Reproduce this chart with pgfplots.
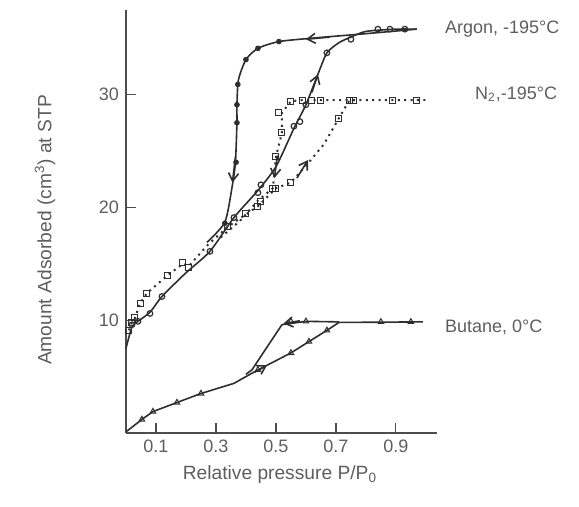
\documentclass[border=0pt]{standalone}
\usepackage{fontspec}
\setmainfont{Liberation Sans}
\usepackage{pgfplots}
\pgfplotsset{compat=1.18}
\usetikzlibrary{arrows.meta}
\definecolor{ink}{HTML}{2E2E2E}
\definecolor{txt}{HTML}{5E5E5E}
\begin{document}
\begin{tikzpicture}
\begin{axis}[
  scale only axis, width=155.5pt, height=211.5pt,
  xmin=0, xmax=1.037, ymin=0, ymax=37.5,
  axis x line=bottom, axis y line=left,
  axis line style={-, ink!85, line width=0.6pt},
  xtick={0.1,0.3,0.5,0.7,0.9}, ytick={10,20,30},
  tick align=inside, major tick length=5pt,
  tick style={ink!85, line width=0.6pt},
  xticklabel style={/pgf/number format/fixed, /pgf/number format/precision=1,
    /pgf/number format/fixed zerofill},
  /pgf/number format/assume math mode=true,
  tick label style={font=\fontsize{9}{10}\selectfont, text=txt},
  label style={font=\fontsize{9.6}{11}\selectfont, text=txt},
  xlabel={Relative pressure P/P\textsubscript{0}},
  ylabel={Amount Adsorbed (cm\textsuperscript{3}) at STP},
  xlabel style={at={(axis description cs:0.495,-0.099)}, anchor=center},
  ylabel style={at={(axis description cs:-0.26,0.48)}, anchor=center},
  clip=false,
]
\path (axis description cs:-0.405,-0.1726) rectangle (axis description cs:1.4566,1.0236);

% Argon adsorption
\addplot[ink, line width=0.8pt, smooth, tension=0.4] coordinates {
 (0,7.5)(0.02,9.4)(0.04,9.9)(0.08,10.7)(0.12,12.1)(0.2,14.2)(0.28,16.1)
 (0.36,19.1)(0.44,21.5)(0.5,23.6)(0.56,27.0)(0.6,29.1)(0.64,31.8)(0.67,33.7)
 (0.71,34.6)(0.75,35.1)(0.8,35.6)(0.9,35.8)(0.97,35.8)};
\addplot[only marks, mark=o, mark size=1.4pt, ink, mark options={fill=white, line width=0.6pt}] coordinates {
 (0.02,9.6)(0.04,9.9)(0.08,10.6)(0.12,12.1)(0.28,16.1)(0.36,19.1)(0.44,21.3)
 (0.45,22.0)(0.56,27.2)(0.58,27.6)(0.60,29.1)(0.67,33.7)(0.75,34.9)
 (0.84,35.8)(0.88,35.8)(0.93,35.8)};
% Argon desorption
\addplot[ink, line width=0.8pt, smooth, tension=0.4] coordinates {
 (0.97,35.8)(0.8,35.4)(0.62,35.0)(0.51,34.7)(0.44,34.1)(0.40,33.1)(0.375,31.3)
 (0.37,29.1)(0.37,27.5)(0.365,24.0)(0.355,22.0)(0.33,18.7)(0.27,16.9)};
\addplot[only marks, mark=*, mark size=1.2pt, ink] coordinates {
 (0.51,34.7)(0.44,34.1)(0.40,33.1)(0.373,30.9)(0.37,29.1)(0.37,27.5)(0.367,24.0)(0.33,18.6)};

% N2 adsorption
\addplot[ink, line width=1pt, dash pattern=on 1pt off 2.2pt] coordinates {
 (0.01,9.1)(0.02,9.8)(0.03,10.2)(0.047,11.5)(0.07,12.4)(0.14,14.0)(0.19,15.0)
 (0.21,14.8)(0.27,16.6)(0.34,18.3)(0.44,20.1)(0.5,21.7)(0.55,22.2)(0.61,24.0)
 (0.66,25.6)(0.71,27.9)(0.745,29.5)(1.0,29.5)};
\addplot[only marks, mark=square, mark size=1.5pt, ink, mark options={fill=white, line width=0.5pt}] coordinates {
 (0.01,9.1)(0.02,9.8)(0.03,10.2)(0.047,11.5)(0.07,12.4)(0.14,14.0)(0.19,15.1)
 (0.21,14.7)(0.34,18.3)(0.40,19.5)(0.44,20.1)(0.5,21.7)(0.55,22.2)(0.71,27.9)
 (0.745,29.5)(0.76,29.5)(0.89,29.5)(0.97,29.5)};
% N2 desorption
\addplot[ink, line width=1pt, dash pattern=on 1pt off 2.2pt] coordinates {
 (0.76,29.5)(0.62,29.5)(0.58,29.5)(0.55,29.4)(0.52,28.4)(0.52,26.6)(0.50,24.5)
 (0.49,21.7)(0.44,20.6)(0.38,18.8)(0.31,17.2)};
\addplot[only marks, mark=square, mark size=1.5pt, ink, mark options={fill=white, line width=0.5pt}] coordinates {
 (0.65,29.5)(0.62,29.5)(0.59,29.5)(0.55,29.4)(0.51,28.4)(0.52,26.6)(0.50,24.5)(0.49,21.7)(0.45,20.5)};

% Butane adsorption
\addplot[ink, line width=0.8pt] coordinates {
 (0,0.1)(0.053,1.2)(0.09,1.9)(0.17,2.7)(0.25,3.5)(0.36,4.4)(0.42,5.3)(0.47,6.0)
 (0.55,7.1)(0.61,8.1)(0.67,9.1)(0.71,9.8)(0.99,9.85)};
\addplot[only marks, mark=triangle, mark size=1.6pt, ink, mark options={fill=white, line width=0.5pt}] coordinates {
 (0.053,1.2)(0.09,1.9)(0.17,2.7)(0.25,3.5)(0.44,5.6)(0.55,7.1)(0.61,8.1)(0.67,9.1)(0.85,9.85)(0.95,9.85)};
% Butane desorption
\addplot[ink, line width=0.8pt] coordinates {
 (0.71,9.85)(0.60,9.9)(0.52,9.6)(0.42,5.6)(0.40,5.2)};
\addplot[only marks, mark=triangle, mark size=1.6pt, ink, mark options={fill=white, line width=0.5pt}] coordinates {
 (0.60,9.9)(0.55,9.9)};

% direction arrows
\pgfplotsset{arr/.style={ink, line width=0.8pt, -{Straight Barb[length=4pt,width=5pt]}}}
\addplot[arr] coordinates {(0.68,35.1)(0.60,34.9)};
\addplot[arr] coordinates {(0.365,24.5)(0.355,22.2)};
\addplot[arr] coordinates {(0.62,30.2)(0.64,31.8)};
\addplot[arr] coordinates {(0.57,22.6)(0.607,24.2)};
\addplot[arr] coordinates {(0.505,24.6)(0.495,22.6)};
\addplot[arr] coordinates {(0.43,5.4)(0.47,6.0)};
\addplot[arr] coordinates {(0.58,9.95)(0.525,9.7)};

\node[anchor=west, inner sep=0, text=txt, font=\fontsize{9}{10}\selectfont] at (axis cs:1.063,35.8) {Argon, -195°C};
\node[anchor=west, inner sep=0, text=txt, font=\fontsize{9}{10}\selectfont] at (axis cs:1.163,30.0) {N\textsubscript{2},-195°C};
\node[anchor=west, inner sep=0, text=txt, font=\fontsize{9}{10}\selectfont] at (axis cs:1.063,9.4) {Butane, 0°C};
\end{axis}
\end{tikzpicture}
\end{document}
